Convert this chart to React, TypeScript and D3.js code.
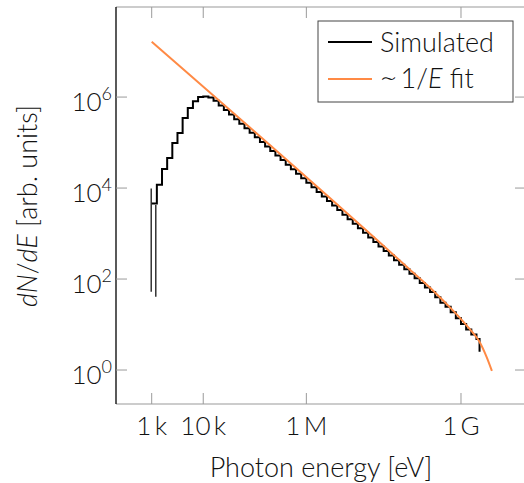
import React from "react";
import * as d3 from "d3";

// ---- data (log10 values) ----
// Simulated histogram: bins with 10 per decade starting at 1 keV; last bin ends at 10^9.36 eV
const simFirstEdgeLog = 3.0;
const simBinsPerDecade = 10;
const simLastEdgeLog = 9.36;
const simLog10 = [
  3.66, 4.07, 4.42, 4.66, 4.99, 5.21, 5.54, 5.76, 5.91, 6.0,
  6.01, 5.99, 5.92, 5.815, 5.715, 5.615, 5.515, 5.415, 5.315, 5.215,
  5.115, 5.015, 4.915, 4.815, 4.715, 4.615, 4.515, 4.415, 4.315, 4.215,
  4.115, 4.015, 3.915, 3.815, 3.715, 3.615, 3.515, 3.415, 3.315, 3.215,
  3.115, 3.015, 2.915, 2.815, 2.715, 2.615, 2.515, 2.415, 2.315, 2.215,
  2.115, 2.015, 1.915, 1.815, 1.715, 1.6, 1.48, 1.39, 1.27, 1.14,
  1.01, 0.89, 0.78, 0.68,
];
const simEndDropLog10 = 0.4;
// thin low-statistics spikes at the start of the spectrum
const spikeEnergyLog = [2.99, 3.08];
const spikeLowLog10 = [1.72, 1.61];
const spikeHighLog10 = [3.99, 3.63];

// ~1/E fit
const fitEnergyLog = [3.0, 8.0, 8.5, 8.8, 9.0, 9.2, 9.35, 9.5, 9.6];
const fitValueLog10 = [7.215, 2.215, 1.7, 1.36, 1.12, 0.86, 0.64, 0.28, -0.02];

// axes
const xTickValues = [1e3, 1e4, 1e6, 1e9];
const xTickLabels = ["1\u2009k", "10\u2009k", "1\u2009M", "1\u2009G"];
const yTickExponents = [0, 2, 4, 6];

const W = 524;
const H = 483;
const FONT = "Lato, 'Open Sans', 'DejaVu Sans', sans-serif";

export default function App() {
  const left = 116, right = 526, top = 7, bottom = 404;
  const x = d3.scaleLog().domain([Math.pow(10, 2.3075), Math.pow(10, 10.261)]).range([left, right]);
  const y = d3.scaleLog().domain([Math.pow(10, -0.747), Math.pow(10, 7.98)]).range([bottom, top]);

  // step histogram vertices
  const pts: [number, number][] = [];
  simLog10.forEach((v, k) => {
    const e0 = simFirstEdgeLog + k / simBinsPerDecade;
    let e1 = simFirstEdgeLog + (k + 1) / simBinsPerDecade;
    if (k === simLog10.length - 1) e1 = simLastEdgeLog;
    const yv = y(Math.pow(10, v));
    pts.push([x(Math.pow(10, e0)), yv]);
    pts.push([x(Math.pow(10, e1)), yv]);
  });
  pts.push([x(Math.pow(10, simLastEdgeLog)), y(Math.pow(10, simEndDropLog10))]);
  const simPath = d3.line()(pts) || "";

  const fitPts: [number, number][] = fitEnergyLog.map((e, i) => [
    x(Math.pow(10, e)),
    y(Math.pow(10, fitValueLog10[i])),
  ]);
  const fitPath = d3.line().curve(d3.curveMonotoneX)(fitPts) || "";

  const tickColor = "#9a9a9a";
  const tickLen = 11;
  const orange = "#ff8a45";
  const fw = 300;

  return (
    <svg width={W} height={H} style={{ position: "absolute", left: 0, top: 0, background: "#fff" }} fontFamily={FONT} fontWeight={fw}>
      {/* spines */}
      <line x1={left} x2={right} y1={top} y2={top} stroke={tickColor} strokeWidth={1.2} />
      <line x1={left} x2={right} y1={bottom} y2={bottom} stroke={tickColor} strokeWidth={1.2} />
      <line x1={left} x2={left} y1={top} y2={bottom} stroke="#000" strokeWidth={1.3} />
      {/* x ticks */}
      {xTickValues.map((v, i) => (
        <g key={"xt" + i}>
          <line x1={x(v)} x2={x(v)} y1={bottom} y2={bottom - tickLen} stroke={tickColor} strokeWidth={1} />
          <line x1={x(v)} x2={x(v)} y1={top} y2={top + tickLen} stroke={tickColor} strokeWidth={1} />
          <text x={x(v)} y={435} textAnchor="middle" fontSize={26} fill="#111">
            {xTickLabels[i]}
          </text>
        </g>
      ))}
      {/* y ticks */}
      {yTickExponents.map((p) => {
        const yy = y(Math.pow(10, p));
        return (
          <g key={"yt" + p}>
            <line x1={left} x2={left + tickLen} y1={yy} y2={yy} stroke={tickColor} strokeWidth={1} />
            <line x1={right - tickLen} x2={right} y1={yy} y2={yy} stroke={tickColor} strokeWidth={1} />
            <text x={112} y={yy + 14} textAnchor="end" fontSize={26} fill="#111">
              10
              <tspan dy={-11} fontSize={18}>{p}</tspan>
            </text>
          </g>
        );
      })}
      {/* data */}
      <path d={simPath} fill="none" stroke="#000" strokeWidth={2} strokeLinejoin="miter" />
      {spikeEnergyLog.map((e, i) => (
        <line
          key={"sp" + i}
          x1={x(Math.pow(10, e))}
          x2={x(Math.pow(10, e))}
          y1={y(Math.pow(10, spikeLowLog10[i]))}
          y2={y(Math.pow(10, spikeHighLog10[i]))}
          stroke="#000"
          strokeWidth={1.2}
        />
      ))}
      <path d={fitPath} fill="none" stroke={orange} strokeWidth={2} />
      {/* axis labels */}
      <text x={321} y={477} textAnchor="middle" fontSize={27} fill="#111">
        Photon energy [eV]
      </text>
      <text transform="translate(37,206) rotate(-90)" textAnchor="middle" fontSize={27} fill="#111">
        <tspan fontStyle="italic">dN</tspan>/<tspan fontStyle="italic">dE</tspan> [arb. units]
      </text>
      {/* legend */}
      <rect x={318} y={21} width={195} height={81} fill="#fff" stroke="#444" strokeWidth={1} />
      <line x1={328} x2={372} y1={42} y2={42} stroke="#000" strokeWidth={2} />
      <text x={380} y={52} fontSize={27} fill="#111">Simulated</text>
      <line x1={328} x2={372} y1={79} y2={79} stroke={orange} strokeWidth={2} />
      <text x={380} y={88} fontSize={27} fill="#111">
        {"\u223C\u20091/"}
        <tspan fontStyle="italic">E</tspan>
        {" fit"}
      </text>
    </svg>
  );
}
